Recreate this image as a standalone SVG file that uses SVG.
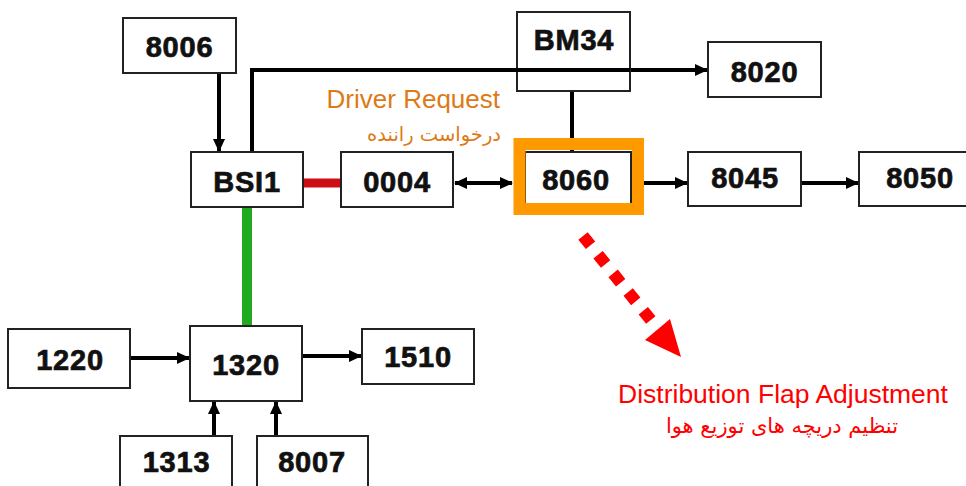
<svg xmlns="http://www.w3.org/2000/svg" width="966" height="486" viewBox="0 0 966 486">
<defs>
<style>
.box{fill:#fff;stroke:#222;stroke-width:2}
.lbl{font-family:"Liberation Sans",Arial,sans-serif;font-weight:bold;font-size:29px;letter-spacing:0.8px;text-anchor:middle;fill:#111;stroke:#111;stroke-width:0.7px}
.ln{fill:none;stroke:#000;stroke-width:4}
</style>
<marker id="ah" markerWidth="13" markerHeight="12" refX="12" refY="6" orient="auto-start-reverse" markerUnits="userSpaceOnUse">
<path d="M0,0 L13,6 L0,12 Z" fill="#000"/>
</marker>
</defs>
<rect width="966" height="486" fill="#fff"/>
<g id="connectors">
<path class="ln" d="M219,73 V151" marker-end="url(#ah)"/>
<path class="ln" d="M252,152 V70 H707" marker-end="url(#ah)"/>
<path class="ln" d="M572,91 V152"/>
<path class="ln" d="M455,183 H512" marker-start="url(#ah)" marker-end="url(#ah)"/>
<path class="ln" d="M644,183 H687" marker-end="url(#ah)"/>
<path class="ln" d="M801,183 H858" marker-end="url(#ah)"/>
<path class="ln" d="M130,358 H189" marker-end="url(#ah)"/>
<path class="ln" d="M302,356 H361" marker-end="url(#ah)"/>
<path class="ln" d="M214,436 V402" marker-end="url(#ah)"/>
<path class="ln" d="M276,436 V402" marker-end="url(#ah)"/>
<path d="M303,183 H341" stroke="#cc0f14" stroke-width="9" fill="none"/>
<path d="M247,207 V325" stroke="#1faa1f" stroke-width="10" fill="none"/>
<path d="M583,236 L658,329" stroke="#ff0000" stroke-width="12" stroke-dasharray="12 12" fill="none"/>
<polygon points="645,340 670,319 681,357" fill="#ff0000"/>
</g>
<g id="n8006"><rect class="box" x="123" y="18" width="113" height="55"/><text class="lbl" x="179.5" y="56.5">8006</text></g>
<g id="nBSI1"><rect class="box" x="191" y="152" width="112" height="55"/><text class="lbl" x="247" y="191.5">BSI1</text></g>
<g id="n0004"><rect class="box" x="341" y="152" width="112" height="55"/><text class="lbl" x="397" y="191.5">0004</text></g>
<g id="nBM34"><rect class="box" x="517" y="12" width="113" height="79"/><text class="lbl" x="574" y="50">BM34</text></g>
<path class="ln" d="M252,70 H630"/>
<g id="n8020"><rect class="box" x="708" y="42" width="113" height="55"/><text class="lbl" x="764.5" y="81.5">8020</text></g>
<g id="n8060"><rect class="box" x="525" y="152" width="106" height="52"/><text class="lbl" x="576" y="190">8060</text><rect x="519.5" y="144" width="118.5" height="65" fill="none" stroke="#ff9900" stroke-width="12"/></g>
<g id="n8045"><rect class="box" x="688" y="152" width="113" height="54"/><text class="lbl" x="745" y="188">8045</text></g>
<g id="n8050"><rect class="box" x="859" y="152" width="120" height="54"/><text class="lbl" x="920" y="188">8050</text></g>
<g id="n1220"><rect class="box" x="8" y="329" width="122" height="59"/><text class="lbl" x="70" y="370">1220</text></g>
<g id="n1320"><rect class="box" x="190" y="326" width="112" height="75"/><text class="lbl" x="246" y="375">1320</text></g>
<g id="n1510"><rect class="box" x="362" y="329" width="112" height="55"/><text class="lbl" x="418" y="366.5">1510</text></g>
<g id="n1313"><rect class="box" x="120" y="436" width="112" height="60"/><text class="lbl" x="176.5" y="471.5">1313</text></g>
<g id="n8007"><rect class="box" x="257" y="436" width="111" height="60"/><text class="lbl" x="312" y="471.5">8007</text></g>
<g id="labels" font-family="'Liberation Sans','DejaVu Sans',Arial,sans-serif">
<text x="500" y="108" font-size="26" fill="#dd7a16" text-anchor="end">Driver Request</text>
<text x="501" y="141" font-size="19.5" fill="#dd7a16" text-anchor="end" font-family="'DejaVu Sans','Noto Sans',sans-serif">درخواست راننده</text>
<text x="783" y="403" font-size="26.5" fill="#ff0000" text-anchor="middle">Distribution Flap Adjustment</text>
<text x="782" y="433" font-size="21" fill="#ff0000" text-anchor="middle" font-family="'DejaVu Sans','Noto Sans',sans-serif">تنظیم دریچه های توزیع هوا</text>
</g>
</svg>
